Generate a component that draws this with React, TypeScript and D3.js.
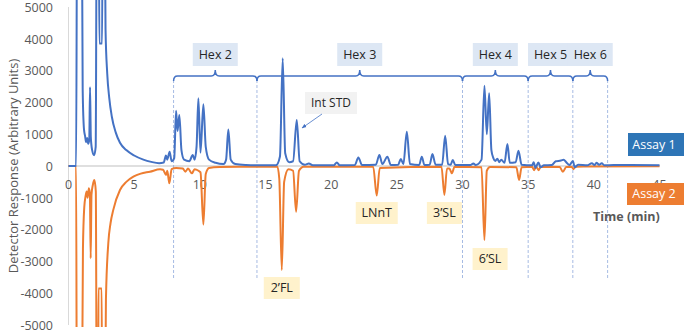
import React from "react";
import * as d3 from "d3";

const W = 684;
const H = 333;

const yTicks = [5000, 4000, 3000, 2000, 1000, 0, -1000, -2000, -3000, -4000, -5000];
const xTicks = [0, 5, 10, 15, 20, 25, 30, 35, 40, 45];

// Assay 1 (blue, positive) [time min, response]
const assay1: [number, number][] = [
  [0, 0], [0.58, 0], [0.66, 9000], [1.0, 9000], [1.08, 2400], [1.18, 1150], [1.26, 950], [1.34, 750],
  [1.42, 880], [1.5, 700], [1.58, 820], [1.64, 2480], [1.7, 900], [1.8, 500], [1.95, 340], [2.07, 600],
  [2.16, 9000], [2.3, 9000], [2.35, 3850], [2.56, 3850], [2.6, 9000], [2.74, 9000], [2.82, 4300],
  [2.95, 2900], [3.1, 2150], [3.3, 1550], [3.6, 1050], [3.92, 730], [4.4, 500], [5.0, 330], [5.7, 200],
  [6.3, 130], [6.9, 90], [7.25, 110], [7.42, 330], [7.52, 200], [7.7, 450], [7.85, 150], [8.05, 250],
  [8.19, 1740], [8.3, 1100], [8.44, 1600], [8.6, 500], [8.8, 200], [9.2, 150], [9.46, 346], [9.6, 200],
  [9.75, 600], [9.89, 2130], [10.05, 420], [10.27, 1940], [10.45, 600], [10.7, 200], [11.2, 100],
  [11.8, 60], [12.0, 200], [12.17, 1150], [12.35, 200], [12.7, 60], [13.5, 30], [14.5, 20], [15.8, 20],
  [16.1, 300], [16.31, 3390], [16.5, 400], [16.8, 120], [17.1, 150], [17.38, 1450], [17.6, 150],
  [18.0, 40], [18.3, 80], [18.6, 20], [20.2, 20], [20.43, 110], [20.65, 20], [21.8, 30], [22.07, 270],
  [22.35, 30], [23.4, 40], [23.67, 345], [23.9, 60], [24.28, 290], [24.55, 30], [25.1, 40], [25.3, 220],
  [25.5, 60], [25.76, 1080], [26.0, 60], [26.7, 30], [26.9, 290], [27.1, 30], [27.5, 40], [27.71, 375],
  [27.95, 40], [28.45, 40], [28.68, 955], [28.9, 60], [29.1, 40], [29.26, 190], [29.45, 30], [30.6, 30],
  [30.83, 80], [31.0, 30], [31.45, 200], [31.67, 2520], [31.85, 1000], [32.03, 2290], [32.2, 500],
  [32.35, 250], [32.5, 160], [32.65, 230], [32.8, 120], [32.95, 200], [33.2, 100], [33.42, 690],
  [33.6, 100], [34.05, 120], [34.26, 480], [34.5, 40], [35.3, 20], [35.42, 120], [35.55, -60],
  [35.78, 110], [35.95, -40], [36.2, 20], [36.8, 30], [37.1, 150], [37.5, 170], [37.7, 200], [37.9, 120],
  [38.15, 30], [38.4, 160], [38.55, -40], [38.8, 40], [39.5, 20], [39.85, 90], [40.05, 30], [40.2, 100],
  [40.4, 40], [40.6, 90], [40.8, 20], [41.5, 30], [45, 20],
];

// Assay 2 (orange, plotted negative) [time min, response]
const assay2: [number, number][] = [
  [0, 0], [0.58, 0], [0.64, -9000], [1.0, -9000], [1.1, -2600], [1.2, -1300], [1.3, -950], [1.38, -800],
  [1.46, -1000], [1.55, -700], [1.63, -900], [1.69, -2900], [1.75, -900], [1.85, -600], [1.97, -440],
  [2.08, -800], [2.16, -9000], [2.26, -9000], [2.28, -3850], [2.53, -3850], [2.56, -9000], [2.76, -9000],
  [2.85, -4200], [3.03, -2430], [3.2, -1800], [3.41, -1380], [3.92, -755], [4.4, -500], [4.94, -336],
  [5.5, -240], [6.2, -180], [6.97, -105], [7.2, -120], [7.43, -280], [7.52, -150], [7.68, -545],
  [7.85, -100], [8.2, -60], [8.7, -80], [8.9, -180], [9.1, -80], [9.4, -230], [9.6, -100], [9.9, -150],
  [10.05, -200], [10.27, -1840], [10.45, -250], [10.7, -60], [11.5, -30], [13, -20], [15.9, -20],
  [16.05, -400], [16.24, -3270], [16.42, -500], [16.75, -100], [17.1, -150], [17.33, -1440],
  [17.55, -150], [17.9, -20], [23.2, -20], [23.47, -930], [23.7, -60], [28.4, -20], [28.62, -910],
  [28.82, -80], [29.0, -80], [29.19, -230], [29.4, -20], [31.45, -40], [31.67, -2330], [31.85, -150],
  [32.1, -30], [34.1, -40], [34.31, -440], [34.5, -40], [35.3, -20], [35.45, -130], [35.6, -20],
  [35.8, -130], [35.95, -20], [37.4, -30], [37.64, -180], [37.9, -30], [38.3, -20], [38.45, -100],
  [38.6, -20], [45, -10],
];

const hexBounds = [8, 14.35, 30, 35, 38.4, 41.05];
const hexLabels = ["Hex 2", "Hex 3", "Hex 4", "Hex 5", "Hex 6"];

const peakLabels = ["2\u2019FL", "LNnT", "3\u2019SL", "6\u2019SL"];
const peakTimes = [16.24, 23.47, 28.62, 32.1];
const peakBoxTop = [277, 202, 202, 248];
const peakBoxW = [36, 42, 35, 35];

const FONT = "'Open Sans', 'Noto Sans', sans-serif";
const GRAY = "#595959";
const BLUE = "#4472c4";
const ORANGE = "#ed7d31";

export default function App() {
  const x = d3.scaleLinear().domain([0, 45]).range([68.5, 659.5]);
  const y = d3.scaleLinear().domain([-5000, 5000]).range([325, 7]);
  const line = d3
    .line<[number, number]>()
    .x((d) => x(d[0]))
    .y((d) => y(d[1]))
    .curve(d3.curveMonotoneX);

  const bracketY = 76;
  const brackets = hexLabels.map((lab, i) => {
    const a = x(hexBounds[i]);
    const b = x(hexBounds[i + 1]);
    const m = (a + b) / 2;
    const p = `M${a},${bracketY + 5} Q${a},${bracketY} ${a + 4},${bracketY} L${m - 4},${bracketY} Q${m},${bracketY} ${m},${bracketY - 6} Q${m},${bracketY} ${m + 4},${bracketY} L${b - 4},${bracketY} Q${b},${bracketY} ${b},${bracketY + 5}`;
    return { lab, a, b, m, p };
  });

  return (
    <svg
      width={W}
      height={H}
      style={{ position: "absolute", left: 0, top: 0, background: "#fff" }}
      fontFamily={FONT}
    >
      <defs>
        <clipPath id="plotclip">
          <rect x={68} y={0} width={600} height={327} />
        </clipPath>
        <marker id="arr" viewBox="0 0 10 10" refX="9" refY="5" markerWidth="6" markerHeight="6" orient="auto">
          <path d="M0,1 L10,5 L0,9 z" fill={BLUE} />
        </marker>
      </defs>

      {/* y axis line */}
      <line x1={x(0)} x2={x(0)} y1={y(5000)} y2={y(-5000)} stroke="#d9d9d9" strokeWidth={1} />
      {/* zero line */}
      <line x1={x(0)} x2={x(45)} y1={y(0)} y2={y(0)} stroke="#bfbfbf" strokeWidth={1} />

      {/* y tick labels */}
      {yTicks.map((t) => (
        <text key={t} x={53} y={y(t) + 0.5} dy="0.35em" textAnchor="end" fontSize={12.5} fill={GRAY}>
          {t}
        </text>
      ))}
      {/* x tick labels */}
      {xTicks.map((t) => (
        <text key={t} x={x(t)} y={185} dy="0.35em" textAnchor="middle" fontSize={12.5} fill={GRAY}>
          {t}
        </text>
      ))}

      {/* axis title */}
      <text
        transform={`translate(13,${y(0)}) rotate(-90)`}
        textAnchor="middle"
        dy="0.35em"
        fontSize={13}
        fill={GRAY}
      >
        Detector Response (Arbitrary Units)
      </text>

      {/* dashed region lines */}
      {hexBounds.map((b, i) => (
        <line key={i} x1={x(b)} x2={x(b)} y1={80} y2={278} stroke="#8faadc" strokeWidth={0.8} strokeDasharray="3,2" />
      ))}

      {/* series */}
      <g clipPath="url(#plotclip)">
        <path d={line(assay2) || ""} fill="none" stroke={ORANGE} strokeWidth={2} strokeLinejoin="round" />
        <path d={line(assay1) || ""} fill="none" stroke={BLUE} strokeWidth={2} strokeLinejoin="round" />
      </g>

      {/* brackets & hex labels */}
      {brackets.map((br) => (
        <g key={br.lab}>
          <path d={br.p} fill="none" stroke={BLUE} strokeWidth={1.5} />
          <rect x={br.m - 22.5} y={43} width={45} height={23} fill="#dde7f4" />
          <text x={br.m} y={54.5} dy="0.35em" textAnchor="middle" fontSize={12.5} fill="#262626">
            {br.lab}
          </text>
        </g>
      ))}

      {/* Int STD */}
      <rect x={305} y={92} width={52} height={22} fill="#f2f2f2" />
      <text x={331} y={103} dy="0.35em" textAnchor="middle" fontSize={12} fill="#262626">
        Int STD
      </text>
      <line x1={322} y1={114} x2={302} y2={128} stroke={BLUE} strokeWidth={0.8} markerEnd="url(#arr)" />

      {/* peak labels */}
      {peakLabels.map((l, i) => (
        <g key={l}>
          <rect x={x(peakTimes[i]) - peakBoxW[i] / 2} y={peakBoxTop[i]} width={peakBoxW[i]} height={22} fill="#fff2cc" />
          <text x={x(peakTimes[i])} y={peakBoxTop[i] + 11} dy="0.35em" textAnchor="middle" fontSize={12.5} fill="#262626">
            {l}
          </text>
        </g>
      ))}

      {/* legends */}
      <rect x={628} y={133} width={56} height={23} fill="#2e75b6" />
      <text x={654} y={144.5} dy="0.35em" textAnchor="middle" fontSize={12.5} fill="#fff">
        Assay 1
      </text>
      <rect x={627} y={183} width={57} height={22} fill={ORANGE} />
      <text x={654} y={194} dy="0.35em" textAnchor="middle" fontSize={12.5} fill="#fff">
        Assay 2
      </text>

      <text x={593} y={217} dy="0.35em" fontSize={12.5} fontWeight="bold" fill={GRAY}>
        Time (min)
      </text>
    </svg>
  );
}
